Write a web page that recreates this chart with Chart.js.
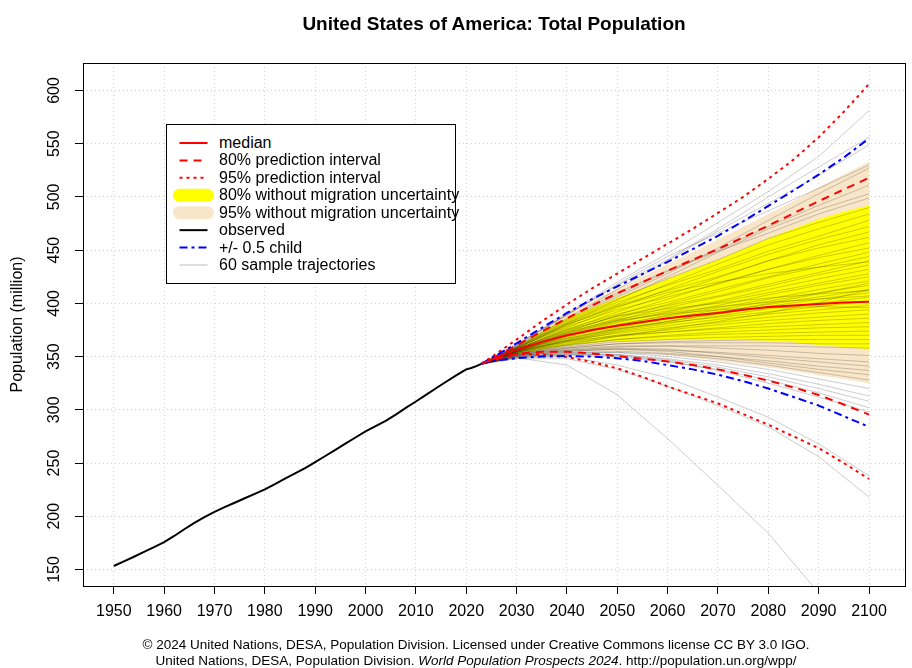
<!DOCTYPE html>
<html>
<head>
<meta charset="utf-8">
<script src="https://cdn.jsdelivr.net/npm/chart.js@4.4.1/dist/chart.umd.min.js"></script>
<style>
  html, body { margin: 0; padding: 0; background: #fff; }
  #wrap { position: relative; width: 912px; height: 668px; overflow: hidden;
          font-family: "Liberation Sans", Arial, Helvetica, sans-serif; color: #000; }
  #c { position: absolute; left: 0; top: 0; }
  .title { position: absolute; top: 13px; left: 494px; transform: translateX(-50%);
           font-weight: bold; font-size: 19px; line-height: 22px; white-space: nowrap; }
  .foot { position: absolute; left: 476px; transform: translateX(-50%);
          font-size: 13.5px; line-height: 16px; white-space: nowrap; }
  #legend { position: absolute; left: 166px; top: 124px; width: 288px; height: 158px;
            border: 1px solid #000; background: #fff; }
  #legend svg { position: absolute; left: 0; top: 0; }
  .lt { position: absolute; left: 52px; font-size: 16px; line-height: 18px; white-space: nowrap; }
</style>
</head>
<body>
<div id="wrap">
  <canvas id="c" width="912" height="668"></canvas>
  <div class="title">United States of America: Total Population</div>
  <div id="legend"></div>
  <div class="foot" style="top:637px">© 2024 United Nations, DESA, Population Division. Licensed under Creative Commons license CC BY 3.0 IGO.</div>
  <div class="foot" style="top:653px">United Nations, DESA, Population Division. <i>World Population Prospects 2024</i>. http://population.un.org/wpp/</div>
</div>
<script>
// ---------------- data ----------------
const xTicks = [1950,1960,1970,1980,1990,2000,2010,2020,2030,2040,2050,2060,2070,2080,2090,2100];
const yTicks = [150,200,250,300,350,400,450,500,550,600];

const obsYears = [1950,1952,1954,1956,1958,1960,1962,1964,1966,1968,1970,1972,1974,1976,1978,1980,1982,1984,1986,1988,1990,1992,1994,1996,1998,2000,2002,2004,2006,2008,2010,2012,2014,2016,2018,2020,2021,2022,2023];
const observed = [153.3,157.6,162.0,166.5,171.0,175.7,181.5,187.8,193.8,199.3,204.2,208.6,212.7,216.9,221.1,225.3,230.2,235.3,240.2,245.2,250.8,256.6,262.3,268.2,274.0,279.7,284.6,289.6,295.5,301.8,307.8,314.0,320.3,326.4,332.4,338.0,339.3,341.0,343.2];

const projYears = [2023,2025,2030,2035,2040,2045,2050,2055,2060,2065,2070,2075,2080,2085,2090,2095,2100];
const median      = [343.2,347.0,356.5,363.8,370.0,375.0,379.0,382.5,386.0,388.5,391.0,394.0,396.5,398.0,399.5,400.8,401.5];
const pi80High    = [343.2,348.0,360.5,373.5,386.0,398.0,409.5,420.0,430.5,441.0,451.0,462.0,473.0,484.5,496.0,507.0,518.0];
const pi80Low     = [343.2,346.5,352.5,354.5,354.5,353.0,350.5,348.0,345.5,342.0,338.0,333.0,327.5,321.0,314.0,305.0,295.5];
const pi95High    = [343.2,349.5,366.0,383.0,399.0,414.0,428.0,442.0,456.0,470.0,485.0,500.0,517.0,535.0,556.0,580.0,606.0];
const pi95Low     = [343.2,346.0,352.5,352.0,349.5,345.0,339.0,331.0,322.0,314.0,306.0,296.0,286.0,275.0,264.0,250.0,235.0];
const halfChildHigh = [343.2,348.5,362.5,377.0,391.0,404.0,416.0,427.5,439.0,451.0,463.5,477.0,491.5,506.0,521.0,537.0,555.0];
const halfChildLow  = [343.2,345.8,348.5,350.0,350.5,350.0,348.5,346.0,342.0,338.0,333.0,327.0,320.0,312.0,304.0,294.0,284.0];
const noMig80High = [343.2,347.5,359.0,373.0,386.0,396.0,405.0,414.0,423.0,432.0,441.0,451.0,461.0,470.0,479.0,486.0,492.0];
const noMig80Low  = [343.2,346.2,352.0,357.0,360.5,363.0,364.5,365.0,365.5,365.5,365.5,365.5,365.0,363.5,361.0,359.0,357.0];
const noMig95High = [343.2,347.8,361.0,377.0,392.0,403.0,414.0,425.0,437.0,448.0,460.0,472.0,484.0,496.0,509.0,521.0,533.0];
const noMig95Low  = [343.2,345.8,350.0,353.0,355.0,355.5,355.0,353.5,351.5,349.0,346.0,343.0,340.0,336.5,332.5,329.0,325.0];

const trajYears = [2023,2030,2040,2050,2060,2070,2080,2090,2100];
const sampleTrajectories = [
  [343,361,390,420,447,476,505,538,581],
  [343,362,389,417,441,470,500,528,556],
  [343,360,386,413,440,468,494,520,549],
  [343,361,389,418,444,466,487,508,530],
  [343,359,383,406,428,452,478,503,527],
  [343,360,385,410,431,450,472,492,511],
  [343,358,381,403,425,448,470,488,503],
  [343,359,384,408,430,449,466,484,499],
  [343,359,382,404,423,441,461,476,490],
  [343,358,380,399,418,437,455,470,484],
  [343,359,381,401,417,432,449,463,478],
  [343,357,377,396,413,430,446,460,472],
  [343,358,379,398,412,425,440,455,467],
  [343,357,375,392,408,424,440,452,462],
  [343,358,378,394,406,418,432,445,457],
  [343,356,373,389,404,419,432,443,452],
  [343,357,376,390,401,413,425,437,448],
  [343,356,372,386,399,411,424,434,444],
  [343,357,374,388,398,407,418,429,440],
  [343,356,371,384,396,406,416,427,436],
  [343,357,373,385,393,402,413,423,432],
  [343,355,369,382,392,401,410,419,428],
  [343,356,370,380,389,398,408,417,425],
  [343,356,368,380,388,396,404,413,421],
  [343,355,367,377,386,394,402,410,417],
  [343,356,369,379,386,392,399,406,413],
  [343,355,366,376,383,390,397,404,410],
  [343,355,365,374,381,388,395,400,406],
  [343,356,367,376,382,387,392,397,402],
  [343,354,364,373,379,385,390,394,398],
  [343,355,365,372,377,382,387,391,394],
  [343,354,363,370,375,380,384,387,390],
  [343,354,362,369,373,377,381,384,386],
  [343,355,364,370,373,376,378,380,382],
  [343,353,360,366,370,373,375,377,378],
  [343,354,361,366,369,371,372,373,374],
  [343,353,359,364,366,368,369,370,370],
  [343,352,358,362,364,365,366,366,366],
  [343,353,358,362,363,363,363,362,362],
  [343,352,356,359,360,360,360,359,358],
  [343,352,357,360,360,358,356,353,351],
  [343,351,355,357,356,354,351,348,345],
  [343,352,356,358,357,353,349,345,341],
  [343,351,354,355,353,350,346,341,337],
  [343,351,355,357,355,350,344,338,333],
  [343,350,353,354,352,348,342,335,328],
  [343,351,354,354,350,345,338,329,320],
  [343,350,352,352,348,342,334,324,313],
  [343,350,353,352,347,340,331,320,308],
  [343,349,351,350,345,338,328,316,302],
  [343,350,352,351,346,337,325,312,298],
  [343,349,350,342,330,312,293,268,238],
  [343,348,348,338,322,304,284,256,218],
  [343,349,342,314,273,229,184,128,75],
  [343,357,375,388,395,400,405,409,412],
  [343,355,370,383,391,397,401,404,407],
  [343,358,380,397,410,420,428,434,439],
  [343,354,365,375,383,391,400,409,419],
  [343,356,372,384,390,394,396,397,396],
  [343,353,361,369,376,383,391,401,413]
];

const legendLabels = ['median','80% prediction interval','95% prediction interval',
  '80% without migration uncertainty','95% without migration uncertainty',
  'observed','+/- 0.5 child','60 sample trajectories'];

// ---------------- legend (HTML) ----------------
(function () {
  const lg = document.getElementById('legend');
  const rowY = i => 18 + i * 17.43;
  const styles = [
    {c:'#ff0000', w:2, d:''},
    {c:'#ff0000', w:2, d:'8,6'},
    {c:'#ff0000', w:2, d:'3,4'},
    {c:'#ffff00', w:13, d:'', cap:'round'},
    {c:'#f9e6c9', w:13, d:'', cap:'round'},
    {c:'#000000', w:2, d:''},
    {c:'#0000ff', w:2, d:'8,4,3,4'},
    {c:'#bdbdbd', w:1, d:''}
  ];
  let svg = '<svg width="60" height="158" xmlns="http://www.w3.org/2000/svg">';
  styles.forEach((s, i) => {
    const y = rowY(i);
    svg += `<line x1="12.5" x2="40.5" y1="${y}" y2="${y}" stroke="${s.c}" stroke-width="${s.w}"` +
           (s.d ? ` stroke-dasharray="${s.d}"` : '') + ` stroke-linecap="${s.cap || 'butt'}"/>`;
  });
  svg += '</svg>';
  let html = svg;
  legendLabels.forEach((t, i) => {
    html += `<div class="lt" style="top:${(rowY(i) - 9).toFixed(1)}px">${t}</div>`;
  });
  lg.innerHTML = html;
})();

// ---------------- chart ----------------
const FONT = '"Liberation Sans", Arial, Helvetica, sans-serif';
const pts = (xs, ys) => xs.map((x, i) => ({x: x, y: ys[i]}));
function line(label, xs, ys, color, width, dash, extra) {
  return Object.assign({
    label: label, data: pts(xs, ys), borderColor: color, borderWidth: width,
    borderDash: dash || [], pointRadius: 0, fill: false, tension: 0,
    borderCapStyle: 'butt', borderJoinStyle: 'round'
  }, extra || {});
}

const datasets = [];
datasets.push(line('median', projYears, median, '#ff0000', 2));
datasets.push(line('+/- 0.5 child (high)', projYears, halfChildHigh, '#0000ff', 2, [8,4,3,4]));
datasets.push(line('+/- 0.5 child (low)', projYears, halfChildLow, '#0000ff', 2, [8,4,3,4]));
datasets.push(line('80% PI high', projYears, pi80High, '#ff0000', 2, [8,6]));
datasets.push(line('80% PI low', projYears, pi80Low, '#ff0000', 2, [8,6]));
datasets.push(line('95% PI high', projYears, pi95High, '#ff0000', 2, [3,4]));
datasets.push(line('95% PI low', projYears, pi95Low, '#ff0000', 2, [3,4]));
datasets.push(line('observed', obsYears, observed, '#000000', 2));
sampleTrajectories.forEach((t, i) => {
  datasets.push(line('trajectory ' + (i + 1), trajYears, t, 'rgba(0,0,0,0.2)', 1));
});
datasets.push(line('80% w/o migration high', projYears, noMig80High, 'rgba(0,0,0,0)', 0, [],
  {fill: '+1', backgroundColor: '#ffff00'}));
datasets.push(line('80% w/o migration low', projYears, noMig80Low, 'rgba(0,0,0,0)', 0));
datasets.push(line('95% w/o migration high', projYears, noMig95High, 'rgba(0,0,0,0)', 0, [],
  {fill: '+1', backgroundColor: '#f9e6c9'}));
datasets.push(line('95% w/o migration low', projYears, noMig95Low, 'rgba(0,0,0,0)', 0));

const boxPlugin = {
  id: 'plotBox',
  afterDatasetsDraw(chart) {
    const {ctx, chartArea: a} = chart;
    ctx.save();
    ctx.strokeStyle = '#000';
    ctx.lineWidth = 1;
    ctx.strokeRect(Math.round(a.left) + 0.5, Math.round(a.top) + 0.5,
                   Math.round(a.right - a.left), Math.round(a.bottom - a.top));
    ctx.restore();
  }
};

const gridOpts = {color: '#d3d3d3', lineWidth: 1, drawTicks: true, tickLength: 8,
                  tickColor: '#000', tickWidth: 1, tickBorderDash: []};

new Chart(document.getElementById('c'), {
  type: 'line',
  data: {datasets: datasets},
  options: {
    responsive: false, animation: false, devicePixelRatio: 1,
    layout: {padding: {top: 63, right: 7, bottom: 0, left: 0}},
    plugins: {legend: {display: false}, tooltip: {enabled: false}, title: {display: false}},
    scales: {
      x: {
        type: 'linear', position: 'bottom', min: 1943.88, max: 2107.15,
        afterBuildTicks: s => { s.ticks = xTicks.map(v => ({value: v})); },
        afterFit: s => { s.height = 82; },
        grid: gridOpts,
        border: {display: false, dash: [1, 3]},
        ticks: {color: '#000', font: {family: FONT, size: 16}, padding: 8, autoSkip: false,
                maxRotation: 0, minRotation: 0, callback: v => String(v)}
      },
      y: {
        type: 'linear', position: 'left', min: 134.5, max: 625.8,
        afterBuildTicks: s => { s.ticks = yTicks.map(v => ({value: v})); },
        afterFit: s => { s.width = 83; },
        grid: gridOpts,
        border: {display: false, dash: [1, 3]},
        ticks: {color: '#000', font: {family: FONT, size: 16}, padding: 7, autoSkip: false,
                minRotation: 90, maxRotation: 90, crossAlign: 'center', callback: v => String(v)},
        title: {display: true, text: 'Population (million)', color: '#000',
                font: {family: FONT, size: 16}, padding: {top: 8, bottom: 0}}
      }
    }
  },
  plugins: [boxPlugin]
});
</script>
</body>
</html>
